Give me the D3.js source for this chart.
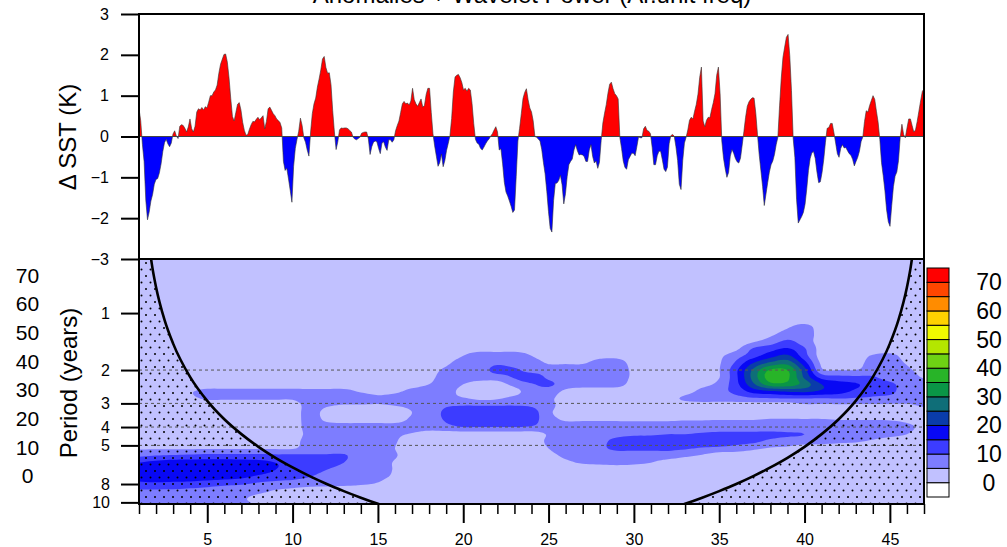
<!DOCTYPE html>
<html>
<head>
<meta charset="utf-8">
<script src="https://cdn.jsdelivr.net/npm/d3@7"></script>
<style>
  html, body { margin: 0; padding: 0; background: #fff; }
  svg { display: block; }
  text { font-family: "Liberation Sans", Arial, Helvetica, sans-serif; fill: #000; }
</style>
</head>
<body>
<svg id="chart" width="1007" height="547"></svg>
<script>
// ---------------------------------------------------------------
// SST anomaly (K), evenly sampled between sstStartYear and sstEndYear
// ---------------------------------------------------------------
const sstStartYear = 1;
const sstEndYear = 47;
const sstAnomaly = [
  0.68, 0.39, -0.19, -0.61, -1.56, -2.04, -1.85, -1.58, -1.42, -1.17,
  -1.05, -1.03, -0.89, -0.67, -0.37, -0.15, -0.07, -0.18, -0.25, -0.16,
  0.06, 0.14, 0.01, -0.05, 0.25, 0.29, 0.27, 0.2, 0.11, 0.23,
  0.43, 0.19, 0.11, 0.25, 0.6, 0.68, 0.65, 0.71, 0.65, 0.73,
  0.7, 0.84, 1.0, 1.0, 1.09, 1.14, 1.26, 1.55, 1.77, 1.89,
  2.01, 2.02, 1.82, 1.43, 0.93, 0.49, 0.38, 0.59, 0.79, 0.83,
  0.65, 0.35, 0.15, 0.03, 0.05, 0.18, 0.29, 0.37, 0.36, 0.42,
  0.47, 0.41, 0.46, 0.51, 0.19, 0.37, 0.68, 0.72, 0.64, 0.56,
  0.51, 0.43, 0.39, 0.34, 0.21, -0.61, -0.83, -0.78, -1.04, -1.32,
  -1.61, -0.73, -0.29, -0.07, 0.13, 0.45, 0.27, -0.03, -0.14, -0.33,
  -0.48, 0.11, 0.56, 0.8, 0.94, 1.21, 1.41, 1.63, 1.9, 1.96,
  1.69, 1.55, 1.56, 1.27, 0.63, 0.11, -0.32, -0.13, 0.16, 0.21,
  0.2, 0.21, 0.21, 0.19, 0.15, 0.11, -0.02, -0.06, -0.08, -0.05,
  -0.02, 0.08, 0.1, 0.11, 0.11, -0.06, -0.44, -0.25, -0.14, -0.11,
  -0.13, -0.29, -0.42, -0.16, -0.13, -0.26, -0.34, -0.08, -0.08, -0.14,
  -0.08, 0.14, 0.27, 0.38, 0.59, 0.8, 0.86, 0.8, 0.82, 0.77,
  0.87, 1.18, 0.9, 0.8, 0.74, 0.83, 0.92, 0.72, 0.76, 1.03,
  1.18, 1.18, 0.59, 0.07, -0.23, -0.48, -0.73, -0.64, -0.43, -0.74,
  -0.59, -0.34, -0.17, 0.02, 0.44, 1.09, 1.46, 1.5, 1.52, 1.44,
  1.32, 1.14, 1.18, 1.11, 1.18, 1.14, 0.81, 0.32, -0.07, -0.16,
  -0.19, -0.29, -0.33, -0.26, -0.18, -0.11, -0.06, 0.01, 0.07, 0.16,
  0.24, 0.11, -0.33, -0.3, -0.67, -1.12, -1.36, -1.46, -1.58, -1.71,
  -1.86, -1.8, -0.98, -0.11, 0.2, 0.56, 0.93, 1.08, 1.17, 0.9,
  0.7, 0.6, 0.38, 0, -0.02, -0.06, -0.11, -0.31, -0.63, -0.91,
  -1.34, -1.84, -2.25, -2.34, -1.57, -1.15, -1.14, -1.08, -0.95, -1.18,
  -1.65, -1.4, -0.98, -0.69, -0.61, -0.55, -0.33, -0.2, -0.35, -0.45,
  -0.44, -0.45, -0.49, -0.61, -0.61, -0.33, -0.2, -0.49, -0.65, -0.6,
  -0.78, -0.63, -0.1, 0.33, 0.57, 0.78, 1.06, 1.28, 1.33, 1.17,
  1.05, 1.0, 0.92, -0.02, -0.29, -0.6, -0.76, -0.8, -0.57, -0.49,
  -0.41, -0.41, -0.47, -0.25, -0.01, -0.03, -0.03, 0.19, 0.25, 0.15,
  0.13, 0.07, -0.26, -0.69, -0.69, -0.47, -0.36, -0.36, -0.57, -0.8,
  -0.86, -0.75, -0.18, 0.02, 0.05, 0.01, -0.25, -0.59, -1.17, -1.3,
  -0.59, -0.16, -0.02, 0.16, 0.4, 0.47, 0.43, 0.62, 0.79, 1.04,
  1.45, 1.7, 0.38, 0.24, 0.4, 0.47, 0.46, 0.66, 0.83, 1.05,
  1.5, 1.7, 1.05, -0.11, -0.53, -0.79, -1.0, -0.88, -0.48, -0.32,
  -0.41, -0.54, -0.62, -0.65, -0.53, -0.21, 0.12, 0.47, 0.74, 0.85,
  0.91, 0.95, 0.94, 0.57, 0.05, -0.44, -0.83, -1.22, -1.69, -1.41,
  -1.13, -0.87, -0.69, -0.6, -0.44, -0.2, -0.02, 0.75, 1.43, 1.94,
  2.19, 2.43, 2.5, 1.98, 1.13, -0.04, -0.51, -1.54, -2.12, -2.04,
  -1.96, -1.86, -1.66, -1.28, -0.83, -0.54, -0.4, -0.37, -0.54, -0.87,
  -1.13, -1.11, -0.88, -0.56, -0.14, 0.2, 0.22, 0.32, 0.32, 0.09,
  -0.16, -0.42, -0.51, -0.29, -0.2, -0.28, -0.27, -0.35, -0.42, -0.46,
  -0.56, -0.72, -0.61, -0.51, -0.36, -0.12, -0.01, 0.37, 0.63, 0.6,
  0.76, 0.88, 1.0, 0.91, 0.62, 0.35, -0.07, -0.64, -0.96, -1.33,
  -1.8, -2.09, -2.2, -1.69, -1.23, -0.97, -0.87, -0.59, -0.02, 0.3,
  0.05, -0.03, 0.21, 0.43, 0.43, 0.27, 0.11, 0.16, 0.37, 0.62,
  0.87, 1.1, 1.17
];

const sstTicks = [-3, -2, -1, 0, 1, 2, 3];
const yearTicks = [5, 10, 15, 20, 25, 30, 35, 40, 45];
const periodTicks = [1, 2, 3, 4, 5, 8, 10];
const periodGuides = [2, 3, 4, 5];

// Wavelet power shading levels and colours (first colour: below 0, last: above 70)
const powerLevels = [0, 5, 10, 15, 20, 25, 30, 35, 40, 45, 50, 55, 60, 65, 70];
const powerColors = [
  "#ffffff", "#c1c1ff", "#7d7dff", "#3c3cff", "#0808f4", "#0a3caa",
  "#0f6e78", "#0a9646", "#28b428", "#6ed214", "#b4e600", "#f0fa00",
  "#ffd200", "#ff8c00", "#ff4600", "#ff0000"
];
const powerLabels = [0, 10, 20, 30, 40, 50, 60, 70];

// Wavelet power grid: one column per year, one row per period (log2 steps of 1/8)
const powerYears = d3.range(1, 48);
const powerPeriods = [
  1.0905, 1.1892, 1.2968, 1.4142, 1.5422, 1.6818, 1.8340, 2.0000,
  2.1810, 2.3784, 2.5937, 2.8284, 3.0844, 3.3636, 3.6680, 4.0000,
  4.3620, 4.7568, 5.1874, 5.6569, 6.1688, 6.7272, 7.3360, 8.0000,
  8.7241, 9.5137, 10.3747, 11.3137
];
const powerGrid = [
  [2,2,2,2,2,2,2,2,2,2, 2,2,2,2,2,2,2,2,2,2, 2,2,2,2,2,2,2,2,2,2, 2,2,2,2,2,2,2,2,2,2, 2,2,2,2,2,2,2],
  [2,2,2,2,2,2,2,2,2,2, 2,2,2,2,2,2,2,2,2,2, 2,2,2,2,2,2,2,2,2,2, 2,2,2,2,2,2,2,2,4.5,7.5, 2,2,2,2,2,2,2],
  [2,2,2,2,2,2,2,2,2,2, 2,2,2,2,2,2,2,2,2,2, 2,2,2,2,2,2,2,2,2,2, 2,2,2,2,2,2,2,4,7.5,7.5, 3,2,2,2,2,2,2],
  [2,2,2,2,2,2,2,2,2,2, 2,2,2,2,2,2,2,2,2,2, 2,2,2,2,2,2,2,2,2,2, 2,2,2,2,2,2,4.5,7.5,11,7.5, 3,2,2,2,2,2,2],
  [2,2,2,2,2,2,2,2,2,2, 2,2,2,2,2,2,2,2,2,3, 3,3,3,3,2,2,2,2,2,2, 2,2,2,2,2,4,10.5,13,15.5,10.5, 3,2,2,2,2,2,2],
  [2,2,2,2,2,2,2,2,2,2, 2,2,2,2,2,2,2,2,2,5, 7.5,7.5,7.5,5,2,2,2,3.5,3.5,2, 2,2,2,2,4,8,13,18,21,12, 3,2,2.5,5.5,6.5,3,2],
  [2,2,2,2,2,2,2,2,2,2, 2,2,2,2,2,2,2,2,4,7.5, 7.5,9,7.5,7.5,4.5,4.5,4.5,7,7.5,3, 2,2,2,2,4.5,11,20,26,28,17, 4,2,3,7,7.5,4.5,2],
  [2,2,2,2,2,2,2,2,2,2, 2,2,2,2,2,2,2,3,6,7.5, 7.5,12,11,8,7.5,7.5,7.5,7.5,7.5,4, 2,2,2,2,4.8,14,26,35.5,35,22, 6,5,5,7.5,7.5,6,3],
  [2,2,2,2,2,2,2,2,2,2, 2,2,2,2,2,2,2,3.5,7.5,7.5, 7.5,7.5,10.5,13,9,7.5,7.5,7.5,7.5,4, 2,2,2,2,4.8,14,27,37.5,36,24, 13,11.5,11,10.5,8,7.5,4.5],
  [2,2,2,2,2,2,2,2,2,2, 2,2,2,2,2,2,3,5,7.5,5, 2.5,3,6.5,9.5,11,7.5,7.5,7.5,7,3, 2,2,2,3.5,6.5,13.5,24,33,33,28, 20,17,15.5,13,11,8,7],
  [2,2,2,4.5,6.5,6.5,6.5,6.5,6.5,6.5, 6.5,6.5,6.5,4.5,3.5,4,6.5,7.5,7,3.5, 2.5,2.5,3.5,7.5,7.5,4,2,2,2,2, 2,2,3,6.5,8.5,11.5,17,19,20.5,21, 19,17,14,12,11,8,7.5],
  [2,2,2,4,5.5,5.5,5.5,5.5,5.5,5.5, 7.5,7.5,7.5,7.5,6,7,7.5,7.5,6.5,5.5, 4,4.5,6.5,7.5,6,3,2,2,2,2, 2,3,6,7.5,7.5,8,9,9.5,10,10, 9.5,10,9.5,9,8.5,8,7.5],
  [2,2,2,2,2,2,2,2,2,2, 7.5,5.5,4.5,4.5,4.5,5,6,7.5,9.5,10, 10,10,10,9.5,6.5,3,2,2,2,2, 2,2,2,2,2,2,2,2,2,4, 4,4,4,4,4,4,5.5],
  [2,2,2,2,2,2,2,2,2,2, 7.5,3,2,2,2,2.5,5,7.5,11,13, 13,13,13,12.5,6,3,2,2,2,2, 2,2,2,2,2,2,2,2,2,2, 2,2,2,2,2,2,3],
  [2,2,2,2,2,2,2,2,2,2, 7.5,4,3,3,3,3,6,7.5,10.5,12.5, 12.5,12.5,12.5,12,7,4.5,4.5,4.5,4.5,4.5, 4.5,4.5,4.8,4.8,5,5,5,5.5,5.5,5.5, 5.5,5,5,5,4.8,4,3],
  [2,2,2,2,2,2,2,2,2,2, 7.5,7.5,7.5,7.5,7.5,7.5,7.5,7.5,8.5,10, 10,10,10,9.5,7.5,7.5,7.5,7.5,7.5,7.5, 7.5,7.5,7.5,7.5,7.5,7.5,7.5,7.5,7.5,7.5, 7.5,7.5,7.5,7.5,7.5,6,4],
  [2,2,2,2,2.5,2.5,2.5,2.5,2.5,2.5, 6.5,7.5,7.5,7.5,7.5,6,4.5,2.5,2.5,2.5, 2.5,2.5,2.5,2.5,5.5,7.5,7.5,8.5,9,9.5, 9.5,10,10,10.5,11,11,11,11,10.5,10, 8,7.5,7,6.5,6,5,3],
  [3,3,3,3,3,3,3,3,3,3, 7.5,7.5,7.5,7.5,7.5,5.5,2,2,2,2, 2,2,2,2,6,7.5,8,9,11,11.5, 12,12,12,12,12,11.5,11,9,8,7.5, 7,6,5.5,4.5,3.5,3,2],
  [4.5,4.5,4.5,4.5,4.5,4.5,4.5,4.5,4.5,4.5, 7.5,7.5,7.5,7.5,7.5,5,2,2,2,2, 2,2,2,2,5,7.5,8,9,11,11, 11,11,10.5,9.5,9,8,6,4.5,4,2, 2,2,2,2,2,2,2],
  [9,10,10.5,11,11.5,11.5,11.5,11.5,11,11, 10.5,10.5,10.5,7.5,7.5,5.5,2,2,2,2, 2,2,2,2,3.5,6,7,7.5,7.5,7.5, 7.5,7.5,6,4.5,2,2,2,2,2,2, 2,2,2,2,2,2,2],
  [15,16.5,17.5,17.5,17.5,17.5,17,16.5,15,13, 12.5,12,10,7.5,7.5,4.5,2,2,2,2, 2,2,2,2,2,4,5.5,6,6.5,6, 5,3,2,2,2,2,2,2,2,2, 2,2,2,2,2,2,2],
  [16,17.5,18.5,18.5,18.5,18,17.5,17,15,13, 11.5,10,8,7.5,7.5,4.5,2,2,2,2, 2,2,2,2,2,2,2,2,2,2, 2,2,2,2,2,2,2,2,2,2, 2,2,2,2,2,2,2],
  [16,17.5,18,18,17.5,17,16,14,12.5,11.5, 10,8.5,7.5,7.5,6.5,4,2,2,2,2, 2,2,2,2,2,2,2,2,2,2, 2,2,2,2,2,2,2,2,2,2, 2,2,2,2,2,2,2],
  [14,14,13.5,13,12,11,10.5,9,8,7.5, 7,6.5,6,5.5,4.5,2,2,2,2,2, 2,2,2,2,2,2,2,2,2,2, 2,2,2,2,2,2,2,2,2,2, 2,2,2,2,2,2,2],
  [9,9,9,8.5,8,7.5,7,6,4.5,3.5, 2,2,2,2,2,2,2,2,2,2, 2,2,2,2,2,2,2,2,2,2, 2,2,2,2,2,2,2,2,2,2, 2,2,2,2,2,2,2],
  [8,8,8,7.5,7,6.5,5.5,4,3,2, 2,2,2,2,2,2,2,2,2,2, 2,2,2,2,2,2,2,2,2,2, 2,2,2,2,2,2,2,2,2,2, 2,2,2,2,2,2,2],
  [7.5,7.5,7.5,7.5,7,6.5,6,4.5,2,2, 2,2,2,2,2,2,2,2,2,2, 2,2,2,2,2,2,2,2,2,2, 2,2,2,2,2,2,2,2,2,2, 2,2,2,2,2,2,2],
  [7.5,7.5,7.5,7.5,7,6.5,6,4.5,2,2, 2,2,2,2,2,2,2,2,2,2, 2,2,2,2,2,2,2,2,2,2, 2,2,2,2,2,2,2,2,2,2, 2,2,2,2,2,2,2]
];

// Cone of influence (period, years) along the record
const coiYears = [1, 1.25, 1.5, 1.75, 2, 2.5, 3, 4, 5, 6, 7, 8, 9, 10, 11, 12, 13, 14, 15, 16, 24,
                  32, 33, 34, 35, 36, 37, 38, 39, 40, 41, 42, 43, 44, 45, 45.5, 46, 46.25, 46.5, 46.75, 47];
const coiPeriods = [0.05, 0.18, 0.36, 0.55, 0.73, 1.09, 1.45, 2.18, 2.91, 3.64, 4.36, 5.09, 5.82, 6.54, 7.27, 8.0, 8.72, 9.45, 10.18, 10.9, 16.7,
                    10.9, 10.18, 9.45, 8.72, 8.0, 7.27, 6.54, 5.82, 5.09, 4.36, 3.64, 2.91, 2.18, 1.45, 1.09, 0.73, 0.55, 0.36, 0.18, 0.05];

// ---------------------------------------------------------------
// Layout
// ---------------------------------------------------------------
const plotLeft = 139, plotRight = 924;
const topY0 = 14, topY1 = 259;      // anomaly panel
const botY0 = 259, botY1 = 504;     // wavelet panel
const font = "Liberation Sans, Arial, Helvetica, sans-serif";

const svg = d3.select("#chart");
const defs = svg.append("defs");

const x = d3.scaleLinear().domain([sstStartYear, sstEndYear]).range([plotLeft, plotRight]);
const ySst = d3.scaleLinear().domain([-3, 3]).range([topY1, topY0]);
const yPer = d3.scaleLog().domain([0.518, 10.2]).range([botY0, botY1]);

// clip regions
function clipRect(id, x0, y0, x1, y1) {
  defs.append("clipPath").attr("id", id).append("rect")
    .attr("x", x0).attr("y", y0).attr("width", x1 - x0).attr("height", y1 - y0);
}
clipRect("clipPos", plotLeft, topY0, plotRight, ySst(0));
clipRect("clipNeg", plotLeft, ySst(0), plotRight, topY1);
clipRect("clipTop", plotLeft, topY0, plotRight, topY1);
clipRect("clipBot", plotLeft, botY0, plotRight, botY1);

// stipple for the region outside the cone of influence
const pat = defs.append("pattern").attr("id", "stipple")
  .attr("patternUnits", "userSpaceOnUse").attr("width", 9).attr("height", 13);
pat.append("circle").attr("cx", 2).attr("cy", 3).attr("r", 1.0).attr("fill", "#000");
pat.append("circle").attr("cx", 6.5).attr("cy", 9.5).attr("r", 1.0).attr("fill", "#000");

// ---------------------------------------------------------------
// Title (runs off the top edge)
// ---------------------------------------------------------------
svg.append("text").attr("x", 532).attr("y", 3).attr("text-anchor", "middle")
  .style("font-size", "24px").text("Anomalies + Wavelet Power (Ar.unit freq)");

// ---------------------------------------------------------------
// Top panel: SST anomaly
// ---------------------------------------------------------------
const sstX = sstAnomaly.map((_, i) => sstStartYear + i * (sstEndYear - sstStartYear) / (sstAnomaly.length - 1));
const gTop = svg.append("g");
const sstArea = d3.area().x((d, i) => x(sstX[i])).y0(ySst(0)).y1(d => ySst(d));
const sstLine = d3.line().x((d, i) => x(sstX[i])).y(d => ySst(d));

gTop.append("path").attr("d", sstArea(sstAnomaly)).attr("fill", "#ff0000").attr("clip-path", "url(#clipPos)");
gTop.append("path").attr("d", sstArea(sstAnomaly)).attr("fill", "#0000ff").attr("clip-path", "url(#clipNeg)");
gTop.append("path").attr("d", sstLine(sstAnomaly)).attr("fill", "none")
  .attr("stroke", "#333").attr("stroke-width", 0.6).attr("clip-path", "url(#clipTop)");
gTop.append("line").attr("x1", plotLeft).attr("x2", plotRight).attr("y1", ySst(0)).attr("y2", ySst(0))
  .attr("stroke", "#444").attr("stroke-width", 1);

// ---------------------------------------------------------------
// Bottom panel: wavelet power
// ---------------------------------------------------------------
const gBot = svg.append("g").attr("clip-path", "url(#clipBot)");
gBot.append("rect").attr("x", plotLeft).attr("y", botY0)
  .attr("width", plotRight - plotLeft).attr("height", botY1 - botY0).attr("fill", powerColors[1]);

// refine the grid with cubic interpolation so the shaded contours are smooth
function cubic(p0, p1, p2, p3, t) {
  return p1 + 0.5 * t * (p2 - p0 + t * (2 * p0 - 5 * p1 + 4 * p2 - p3 + t * (3 * (p1 - p2) + p3 - p0)));
}
function refine(grid, f) {
  const ny = grid.length, nx = grid[0].length;
  const NX = (nx - 1) * f + 1, NY = (ny - 1) * f + 1;
  const ci = (k, n) => Math.max(0, Math.min(n - 1, k));
  const rows = grid.map(row => {
    const out = new Array(NX);
    for (let I = 0; I < NX; I++) {
      const u = I / f, i = Math.floor(u), t = u - i;
      out[I] = cubic(row[ci(i - 1, nx)], row[ci(i, nx)], row[ci(i + 1, nx)], row[ci(i + 2, nx)], t);
    }
    return out;
  });
  const values = new Array(NX * NY);
  for (let J = 0; J < NY; J++) {
    const v = J / f, j = Math.floor(v), t = v - j;
    const r0 = rows[ci(j - 1, ny)], r1 = rows[ci(j, ny)], r2 = rows[ci(j + 1, ny)], r3 = rows[ci(j + 2, ny)];
    for (let I = 0; I < NX; I++) values[J * NX + I] = cubic(r0[I], r1[I], r2[I], r3[I], t);
  }
  return { values, NX, NY };
}

const refineFactor = 5;
const nx = powerYears.length, ny = powerPeriods.length;
const fine = refine(powerGrid, refineFactor);
const lpA = Math.log2(powerPeriods[0]), lpB = Math.log2(powerPeriods[ny - 1]);
const yrA = powerYears[0], yrB = powerYears[nx - 1];
function gridToPx(p) {
  const u = (p[0] - 0.5) / refineFactor, v = (p[1] - 0.5) / refineFactor;
  const yr = yrA + u * (yrB - yrA) / (nx - 1);
  const lp = lpA + v * (lpB - lpA) / (ny - 1);
  return [x(yr), yPer(Math.pow(2, lp))];
}
const ringLine = d3.line();
const contourGen = d3.contours().size([fine.NX, fine.NY]).thresholds(powerLevels.slice(1));
contourGen(fine.values).forEach(c => {
  const level = powerLevels.indexOf(c.value);
  const d = c.coordinates.map(poly => poly.map(ring => ringLine(ring.map(gridToPx)) + "Z").join("")).join("");
  if (d) gBot.append("path").attr("d", d).attr("fill", powerColors[level + 1]).attr("fill-rule", "evenodd");
});

// reference periods
periodGuides.forEach(p => {
  gBot.append("line").attr("x1", plotLeft).attr("x2", plotRight)
    .attr("y1", yPer(p)).attr("y2", yPer(p))
    .attr("stroke", "#555").attr("stroke-width", 1).attr("stroke-dasharray", "3,3");
});

// cone of influence: stipple outside, bold boundary
const coiArea = d3.area().curve(d3.curveMonotoneX)
  .x((d, i) => x(coiYears[i])).y0(botY1 + 60).y1(d => yPer(d));
gBot.append("path").attr("d", coiArea(coiPeriods)).attr("fill", "url(#stipple)");
const coiLine = d3.line().curve(d3.curveMonotoneX)
  .x((d, i) => x(coiYears[i])).y(d => yPer(d));
gBot.append("path").attr("d", coiLine(coiPeriods)).attr("fill", "none")
  .attr("stroke", "#000").attr("stroke-width", 2.6);

// ---------------------------------------------------------------
// Frames and axes
// ---------------------------------------------------------------
function styleAxis(g, size) {
  g.select(".domain").remove();
  g.selectAll(".tick line").attr("stroke", "#000").attr("stroke-width", 2);
  g.selectAll(".tick text").style("font-size", size + "px").style("font-family", font).attr("fill", "#000");
}

const axSst = svg.append("g").attr("transform", `translate(${plotLeft},0)`)
  .call(d3.axisLeft(ySst).tickValues(sstTicks).tickFormat(d3.format("d")).tickSize(18).tickPadding(12));
styleAxis(axSst, 16);

const axPer = svg.append("g").attr("transform", `translate(${plotLeft},0)`)
  .call(d3.axisLeft(yPer).tickValues(periodTicks).tickFormat(d3.format("d")).tickSize(18).tickPadding(11));
styleAxis(axPer, 16);

const minorYears = d3.range(sstStartYear, sstEndYear + 1).filter(v => yearTicks.indexOf(v) < 0);
const axMinor = svg.append("g").attr("transform", `translate(0,${botY1})`)
  .call(d3.axisBottom(x).tickValues(minorYears).tickFormat("").tickSize(10));
axMinor.select(".domain").remove();
axMinor.selectAll(".tick line").attr("stroke", "#000").attr("stroke-width", 1.5);

const axYear = svg.append("g").attr("transform", `translate(0,${botY1})`)
  .call(d3.axisBottom(x).tickValues(yearTicks).tickFormat(d3.format("d")).tickSize(19).tickPadding(11));
styleAxis(axYear, 16);

[[topY0, topY1], [botY0, botY1]].forEach(([y0, y1]) => {
  svg.append("rect").attr("x", plotLeft).attr("y", y0)
    .attr("width", plotRight - plotLeft).attr("height", y1 - y0)
    .attr("fill", "none").attr("stroke", "#000").attr("stroke-width", 2);
});

// axis titles
svg.append("text").attr("transform", "translate(76,137) rotate(-90)")
  .attr("text-anchor", "middle").style("font-size", "24px").text("\u0394 SST (K)");
svg.append("text").attr("transform", "translate(77,383) rotate(-90)")
  .attr("text-anchor", "middle").style("font-size", "24px").text("Period (years)");

// ---------------------------------------------------------------
// Colour bar
// ---------------------------------------------------------------
const barX = 927, barW = 22, barTop = 268, barBottom = 497;
const boxH = (barBottom - barTop) / powerColors.length;
const barG = svg.append("g");
powerColors.forEach((c, i) => {
  barG.append("rect").attr("x", barX).attr("y", barBottom - (i + 1) * boxH)
    .attr("width", barW).attr("height", boxH)
    .attr("fill", c).attr("stroke", "#000").attr("stroke-width", 1);
});
const levelY = v => barBottom - (powerLevels.indexOf(v) + 1) * boxH;
powerLabels.forEach(v => {
  barG.append("text").attr("x", 989).attr("y", levelY(v) + 8)
    .attr("text-anchor", "middle").style("font-size", "23px").text(v);
});

// second copy of the level labels at the far left
powerLabels.forEach(v => {
  svg.append("text").attr("x", 27.5).attr("y", levelY(v) + 0.5)
    .attr("text-anchor", "middle").style("font-size", "21px").text(v);
});
</script>
</body>
</html>
